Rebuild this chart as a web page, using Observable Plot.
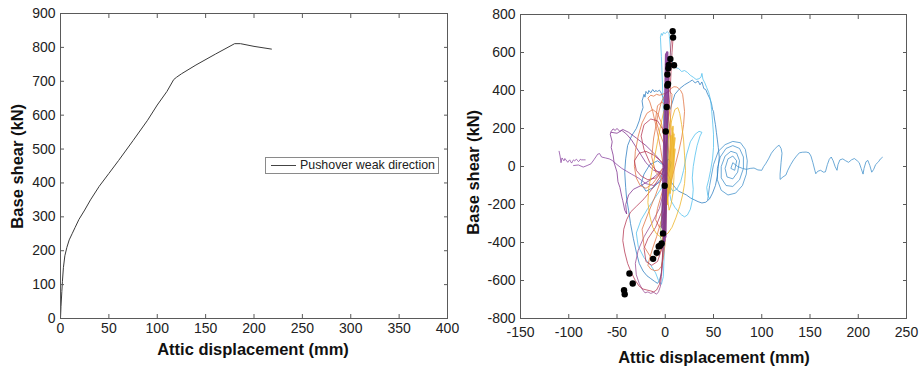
<!DOCTYPE html>
<html><head><meta charset="utf-8">
<script src="https://cdn.jsdelivr.net/npm/d3@7"></script>
<script src="https://cdn.jsdelivr.net/npm/@observablehq/plot@0.6"></script>
<style>
body{margin:0;background:#fff;font-family:"Liberation Sans",Arial,Helvetica,sans-serif;}
#wrap{position:relative;width:924px;height:370px;overflow:hidden;background:#fff;}
#wrap > div.p{position:absolute;top:0;}
.legend{position:absolute;left:265px;top:157px;width:172px;height:15px;border:1px solid #8a8a8a;background:#fff;font-size:12.4px;color:#222;line-height:15px;white-space:nowrap;}
.legend .sw{display:inline-block;width:25px;height:0;border-top:1px solid #444;vertical-align:middle;margin:0 4px 0 5px;}
.title{position:absolute;font-weight:bold;font-size:16.5px;color:#111;line-height:1;white-space:nowrap;text-align:center;}
</style></head><body><div id="wrap"></div>
<script>
// ---------- Left panel: pushover ----------
const pushX = [0,0.5,1.4,2,3,4.5,6.6,9,12,15,19,25,31,40,50,60,75,90,100,110,117,120,125,140,160,180,186,200,218];
const pushY = [0,35,80,110,150,185,210,232,250,268,292,320,350,390,428,466,525,585,630,670,705,712,722,748,780,811,811,803,795];
const leftXTicks = [0,50,100,150,200,250,300,350,400];
const leftYTicks = [0,100,200,300,400,500,600,700,800,900];
const legendLabel = "Pushover weak direction";

// ---------- Right panel: time-history hysteresis ----------
const rightXTicks = [-150,-100,-50,0,50,100,150,200,250];
const rightYTicks = [-800,-600,-400,-200,0,200,400,600,800];
const xTitle = "Attic displacement (mm)";
const yTitle = "Base shear (kN)";

const tailBlue = [[44,-175],[46,-100],[50,10],[55,80],[62,115],[70,132],[78,125],[83,90],[85,30],[84,-40],[80,-100],[73,-140],[65,-150],[58,-125],[54,-70],[54,-10],[57,50],[63,95],[70,110],[77,95],[81,50],[81,-10],[77,-70],[70,-105],[63,-100],[58,-60],[58,0],[62,55],[68,80],[74,70],[77,30],[75,-30],[70,-65],[64,-55],[62,-10],[65,40],[70,55],[74,30],[72,-20],[68,-10],[70,20],[75,0],[80,-10],[84,-15],[88,-10],[92,-8],[96,-18],[100,-20],[102,0],[104,14],[107,40],[110,70],[113,90],[116,105],[118,112],[120,95],[121,70],[120,20],[119,-40],[119,-68],[122,-55],[125,-45],[127,-20],[130,10],[133,35],[136,55],[139,72],[142,75],[146,76],[149,72],[151,55],[153,20],[155,-20],[156,-38],[158,-25],[161,-20],[164,-30],[166,-28],[168,10],[170,38],[172,50],[174,30],[176,0],[178,-20],[179,10],[181,35],[184,40],[187,30],[190,22],[193,35],[196,42],[199,30],[201,20],[203,-10],[205,-40],[206,-10],[208,25],[210,32],[212,5],[214,-30],[216,-15],[218,10],[221,25],[223,40],[225,48]];

const blueA = [[2,-50],[3,80],[2,200],[0,300],[-2,360],[-4,385],[-6,402],[-8,395],[-10,400],[-11,392],[-13,405],[-15,388],[-17,400],[-18,382],[-20,395],[-21,365],[-22,380],[-24,345],[-23,310],[-25,280],[-27,240],[-30,200],[-35,160],[-39,110],[-41,40],[-42,-30],[-41,-110],[-40,-170],[-38,-230],[-36,-300],[-33,-380],[-30,-450],[-27,-510],[-23,-550],[-19,-575],[-15,-590],[-11,-605],[-8,-615],[-6,-600],[-4,-560],[-3,-500],[-2,-420],[0,-300],[1,-200],[2,-50]];

const blueRight = [[5,300],[10,380],[15,410],[20,430],[25,445],[28,455],[31,440],[34,450],[36,430],[38,445],[40,410],[42,405],[44,380],[46,360],[48,330],[49,300],[50,290],[51,250],[52,220],[53,180],[54,140],[55,100],[56,50],[55,0],[54,-50],[52,-100],[49,-140],[46,-170],[42,-188],[38,-192],[34,-185],[30,-175],[26,-165],[22,-150],[18,-140],[14,-130],[10,-110],[6,-80],[3,-40],[1,0]];

const blueCenter = [[0,0],[-8,30],[-16,10],[-22,-40],[-25,-90],[-20,-130],[-12,-110],[-5,-70],[-2,-20],[3,40],[6,20],[4,-30]];

const lightBlue1 = [[0,-50],[-1,150],[-2,300],[-3,450],[-4,580],[-5,680],[-4,700],[-3,690],[-2,705],[0,700],[2,710],[4,700],[5,640],[6,580],[8,540],[11,520],[14,515],[17,500],[20,505],[23,495],[26,480],[29,470],[32,458],[35,462],[37,470],[38,490],[39,460],[41,440],[43,415],[45,390],[47,350],[48,300],[49,240],[50,170],[50,100],[49,40],[47,-20],[45,-70],[43,-110],[44,-150],[46,-170]];

const lightBlue2 = [[0,0],[3,-100],[6,-180],[10,-215],[14,-240],[17,-255],[20,-265],[23,-255],[26,-225],[28,-180],[29,-120],[28,-60],[29,0],[31,60],[33,110],[36,160],[38,180],[35,185],[31,170],[26,130],[22,60],[19,-20],[16,-80],[12,-120],[8,-130],[4,-100],[2,-50]];

const lightBlue3 = [[-2,-100],[-10,-160],[-18,-220],[-25,-280],[-30,-350],[-28,-420],[-22,-480],[-15,-520],[-10,-560],[-7,-600],[-4,-620],[-2,-580],[-1,-450],[0,-300]];

const orange1 = [[-2,0],[-5,100],[-9,200],[-13,290],[-16,340],[-18,360],[-15,375],[-12,370],[-9,380],[-6,375],[-3,380],[0,385],[3,395],[6,410],[9,420],[12,418],[14,410],[16,400],[18,380],[19,340],[20,290],[19,220],[17,150],[14,80],[11,20],[8,-40],[5,-100],[2,-170],[-1,-240],[-5,-300],[-9,-370],[-13,-430],[-16,-480],[-18,-520],[-15,-540],[-11,-548],[-7,-545],[-4,-525],[-2,-480],[0,-400],[1,-250],[2,-100],[1,50],[-1,150],[-4,230],[-8,280],[-13,300],[-19,280],[-24,230],[-28,160],[-31,80],[-32,0],[-30,-60],[-26,-100],[-20,-115],[-13,-90],[-7,-50],[-3,-10]];

const orange2 = [[0,100],[-6,180],[-10,250],[-8,320],[-3,340],[2,300],[5,200],[6,100],[4,0],[0,-80],[-4,-150],[-8,-220],[-10,-280],[-6,-320],[-2,-300],[0,-200]];

const orange3 = [[-3,-50],[-10,-150],[-18,-250],[-24,-330],[-22,-420],[-16,-470],[-10,-480],[-5,-450],[-2,-380],[0,-250],[2,-50],[4,150],[6,300],[7,380],[4,400],[0,380],[-4,340],[-8,260],[-12,150],[-14,50],[-10,-30],[-4,-60]];

const darkRed = [[0,0],[-6,-60],[-14,-120],[-22,-170],[-30,-210],[-36,-240],[-40,-280],[-43,-330],[-44,-390],[-42,-450],[-39,-510],[-35,-560],[-31,-600],[-27,-630],[-23,-645],[-19,-650],[-15,-655],[-12,-660],[-9,-650],[-6,-620],[-4,-560],[-3,-480],[-2,-380],[-1,-250],[0,-100],[1,50],[2,200],[3,350],[4,480],[5,580],[6,650],[7,690],[8,670],[7,600],[6,500],[5,380],[3,250],[1,100],[0,0],[-5,30],[-12,60],[-20,80],[-27,70],[-32,30],[-30,-20],[-25,-50],[-18,-70],[-10,-60],[-4,-30]];

const darkRed2 = [[0,-50],[-8,-30],[-16,20],[-22,90],[-25,160],[-22,220],[-15,250],[-8,240],[-3,200],[0,120],[2,0],[1,-120],[-3,-230],[-10,-320],[-18,-380],[-22,-430],[-20,-500],[-14,-520],[-8,-500],[-4,-440],[-2,-350]];

const purpleLow = [[-1,-120],[-6,-220],[-14,-300],[-22,-370],[-28,-440],[-31,-510],[-30,-570],[-27,-615],[-24,-645],[-21,-665],[-18,-660],[-15,-668],[-12,-662],[-9,-672],[-7,-660],[-5,-630],[-4,-580],[-3,-520],[-2,-440],[-1,-330]];

const purpleTail = [[-110,80],[-109,55],[-108,20],[-107,45],[-106,38],[-105,30],[-104,42],[-103,35],[-101,22],[-100,30],[-99,35],[-98,25],[-97,18],[-96,28],[-95,35],[-94,30],[-92,38],[-91,32],[-90,26],[-89,30],[-88,38],[-87,35],[-85,35],[-83,35]];

const purplePath = [[-95,5],[-90,8],[-85,-3],[-81,5],[-77,14],[-74,35],[-72,50],[-70,65],[-68,68],[-66,50],[-62,45],[-58,40],[-55,32],[-50,10],[-45,-10],[-40,-25],[-35,-40],[-28,-60],[-20,-90],[-12,-100],[-5,-80],[0,-40]];

const purpleLoop = [[0,0],[-10,60],[-20,110],[-30,150],[-38,180],[-44,195],[-47,185],[-50,200],[-52,190],[-54,198],[-56,185],[-57,170],[-55,130],[-56,100],[-54,60],[-53,20],[-50,-30],[-49,-80],[-47,-110],[-45,-160],[-44,-180],[-42,-230],[-40,-250],[-41,-200],[-38,-150],[-33,-120],[-25,-100],[-15,-70],[-8,-40],[0,0]];

const purpleLoop2 = [[-56,180],[-50,175],[-45,190],[-40,170],[-35,140],[-30,100],[-25,60],[-20,20],[-12,-20],[-5,-30]];

const yellow1 = [[0,0],[2,100],[4,180],[7,250],[10,300],[13,310],[15,280],[17,220],[19,140],[20,60],[21,-20],[20,-90],[18,-150],[15,-210],[11,-270],[7,-320],[3,-350],[-1,-365],[-5,-370],[-9,-355],[-13,-320],[-16,-260],[-18,-190],[-17,-110],[-14,-30],[-11,50],[-8,130],[-5,210],[-2,280],[1,330],[4,300],[6,220],[8,130],[9,40],[9,-60],[8,-140],[6,-200],[4,-230],[2,-150]];

const yellow2 = [[2,-150],[8,200],[3,-90],[9,170],[4,-120],[10,150],[5,-80],[8,210],[3,-60],[7,140],[2,-180],[9,110],[4,-100],[10,90],[5,-140],[8,180],[3,-30],[6,160],[2,-200],[7,90]];

const green1 = [[0,0],[-2,-150],[-4,-280],[-5,-370],[-3,-410],[-1,-350],[0,-250],[1,-100],[2,50],[3,200],[2,320],[0,260],[-1,120],[0,0]];

const purpleBar = [[-1,-380],[2,600],[-2,-360],[1,560],[-3,-320],[2,520],[-1,-350],[3,470],[-2,-330],[1,590],[0,-370],[2,480],[-2,-300],[3,540],[-1,-390],[1,500]];

const dotX = [7.7,8.1,5.3,9.1,3.6,3.2,2.2,2.9,2.2,1.5,0.5,-0.6,-2.3,-3.7,-5.4,-6.8,-8.8,-12.6,-37.1,-33.7,-42.7,-42];
const dotY = [712,679,566,533,535,517,484,435,426,313,184,-101,-352,-405,-417,-421,-454,-486,-563,-616,-651,-672];

// ---------- styling (kept separate from data) ----------
const seriesOrder = [
  [tailBlue, "#3f8fcb", 0.9],
  [blueA, "#2a7cc0", 0.9],
  [blueRight, "#2a7cc0", 0.9],
  [lightBlue1, "#4DBEEE", 0.9],
  [lightBlue2, "#4DBEEE", 0.9],
  [lightBlue3, "#4DBEEE", 0.9],
  [purpleLow, "#9a4a92", 0.9],
  [purpleLoop, "#7E2F8E", 0.9],
  [purpleLoop2, "#7E2F8E", 0.9],
  [purpleTail, "#8a45a0", 0.9],
  [purplePath, "#8a45a0", 0.9],
  [blueCenter, "#2a7cc0", 0.9],
  [orange1, "#E0703F", 0.9],
  [orange2, "#E0703F", 0.9],
  [orange3, "#E0703F", 0.9],
  [darkRed, "#B43450", 0.9],
  [darkRed2, "#B43450", 0.9],
  [yellow1, "#EDB120", 0.9],
  [yellow2, "#EDB120", 1.6],
  [green1, "#77AC30", 0.9],
  [purpleBar, "#7E2F8E", 2.6]
];

const W = 462, H = 370;
const fontFamily = '"Liberation Sans", Arial, Helvetica, sans-serif';
const axisColor = "#5a5a5a";
const TK = 4;

function frameAxes(xTicks, yTicks, xPad) {
  const none = () => "";
  return [
    Plot.frame({stroke: axisColor, strokeWidth: 1}),
    // inward tick marks on all four sides
    Plot.axisX({anchor: "bottom", ticks: xTicks, tickSize: TK, dy: -TK, tickFormat: none, label: null, stroke: axisColor}),
    Plot.axisX({anchor: "top", ticks: xTicks, tickSize: TK, dy: TK, tickFormat: none, label: null, stroke: axisColor}),
    Plot.axisY({anchor: "left", ticks: yTicks, tickSize: TK, dx: TK, tickFormat: none, label: null, stroke: axisColor}),
    Plot.axisY({anchor: "right", ticks: yTicks, tickSize: TK, dx: -TK, tickFormat: none, label: null, stroke: axisColor}),
    // tick labels
    Plot.axisX({anchor: "bottom", ticks: xTicks, tickSize: 0, tickPadding: xPad, tickFormat: d => String(d), label: null}),
    Plot.axisY({anchor: "left", ticks: yTicks, tickSize: 0, tickPadding: 5, tickFormat: d => String(d), label: null})
  ];
}

const pushData = pushX.map((x, i) => ({x, y: pushY[i]}));
const left = Plot.plot({
  width: W, height: H,
  marginLeft: 60, marginRight: 15, marginTop: 13, marginBottom: 52,
  x: {domain: [0, 400]},
  y: {domain: [0, 900]},
  style: {fontFamily, fontSize: "14px", color: "#222", background: "white"},
  marks: [
    Plot.line(pushData, {x: "x", y: "y", stroke: "#3a3a3a", strokeWidth: 1}),
    ...frameAxes(leftXTicks, leftYTicks, 5)
  ]
});

const lineMarks = seriesOrder.map(([pts, color, w]) =>
  Plot.line(pts.map(([x, y]) => ({x, y})), {x: "x", y: "y", stroke: color, strokeWidth: w, strokeOpacity: 0.85, strokeLinejoin: "round"})
);
const dots = dotX.map((x, i) => ({x, y: dotY[i]}));
const right = Plot.plot({
  width: W, height: H,
  marginLeft: 58, marginRight: 18, marginTop: 14, marginBottom: 52,
  x: {domain: [-150, 250]},
  y: {domain: [-800, 800]},
  style: {fontFamily, fontSize: "14px", color: "#222", background: "white"},
  marks: [
    ...lineMarks,
    Plot.dot(dots, {x: "x", y: "y", r: 3.2, fill: "#000", stroke: "none"}),
    ...frameAxes(rightXTicks, rightYTicks, 9)
  ]
});

const wrap = document.getElementById("wrap");
const d1 = document.createElement("div"); d1.className = "p"; d1.style.left = "0px"; d1.appendChild(left);
const d2 = document.createElement("div"); d2.className = "p"; d2.style.left = W + "px"; d2.appendChild(right);
wrap.appendChild(d1); wrap.appendChild(d2);

// legend
const lg = document.createElement("div");
lg.className = "legend";
lg.innerHTML = '<span class="sw"></span>' + legendLabel;
wrap.appendChild(lg);

// axis titles
function title(text, cx, top, rotate) {
  const t = document.createElement("div");
  t.className = "title";
  t.textContent = text;
  t.style.width = "300px";
  t.style.left = (cx - 150) + "px";
  t.style.top = top + "px";
  if (rotate) { t.style.transform = "rotate(-90deg)"; }
  wrap.appendChild(t);
}
title(xTitle, 253, 341, false);
title(xTitle, 714, 349, false);
title(yTitle, 17, 166.5 - 8.25, true);
title(yTitle, 473, 172.5 - 8.25, true);
</script></body></html>
